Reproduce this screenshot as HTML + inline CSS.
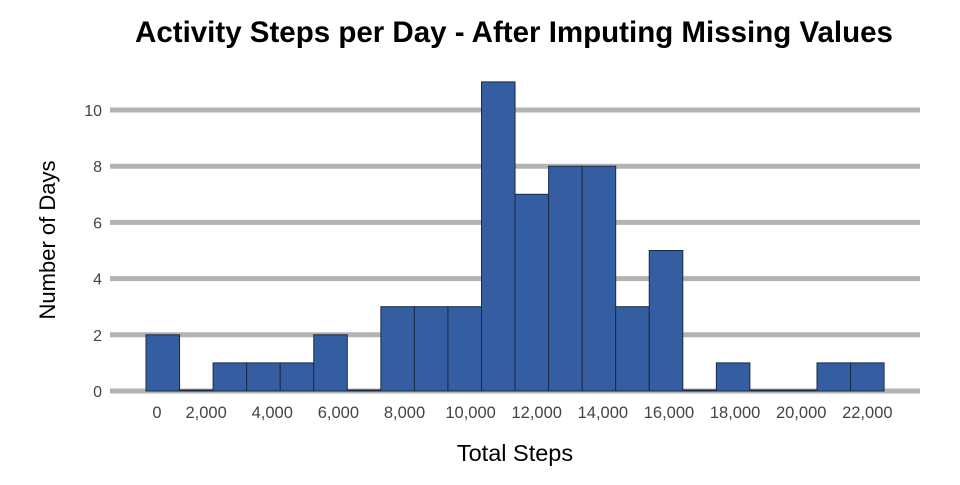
<!DOCTYPE html>
<html><head><meta charset="utf-8"><style>
body{margin:0;background:#fff;font-family:"Liberation Sans",Arial,sans-serif}
</style></head><body>
<svg id="c" width="960" height="480">
<text x="514" y="42" text-anchor="middle" font-size="29.5" font-weight="bold" fill="#000">Activity Steps per Day - After Imputing Missing Values</text>
<text x="515" y="461" text-anchor="middle" font-size="23.5" fill="#000">Total Steps</text>
<text transform="translate(55,240) rotate(-90)" text-anchor="middle" font-size="22" fill="#000">Number of Days</text>
<g id="grid"></g><g id="bars"></g><g id="xt"></g><g id="yt"></g>
</svg>
<script>
const counts=[2,0,1,1,1,2,0,3,3,3,11,7,8,8,3,5,0,1,0,0,1,1];
const yTicks=[0,2,4,6,8,10];
const xTicks=[0,2000,4000,6000,8000,10000,12000,14000,16000,18000,20000,22000];
const ns="http://www.w3.org/2000/svg";
function y(v){return 391-v*28.1;}
function binX(i){return 146+i*33.55;}
function tickX(v){return 140+v*0.03306;}
const grid=document.getElementById('grid'),bars=document.getElementById('bars'),xt=document.getElementById('xt'),yt=document.getElementById('yt');
yTicks.forEach(v=>{
 const l=document.createElementNS(ns,'line');
 l.setAttribute('x1',110);l.setAttribute('x2',920);l.setAttribute('y1',y(v));l.setAttribute('y2',y(v));
 l.setAttribute('stroke','#b3b3b3');l.setAttribute('stroke-width',5);
 
 
 grid.appendChild(l);
 const t=document.createElementNS(ns,'text');
 t.setAttribute('x',102);t.setAttribute('y',y(v)+6);t.setAttribute('text-anchor','end');
 t.setAttribute('font-size',16);t.setAttribute('fill','#444');t.textContent=v;
 
 
 yt.appendChild(t);
});
counts.forEach((c,i)=>{
 const r=document.createElementNS(ns,'rect');
 const h=Math.max(c*28.1,1);
 r.setAttribute('x',binX(i));r.setAttribute('width',33.55);r.setAttribute('y',391-h);r.setAttribute('height',h);
 r.setAttribute('fill','#355ea2');r.setAttribute('stroke','#1a2a44');r.setAttribute('stroke-width',1);
 
 
 bars.appendChild(r);
});
xTicks.forEach((v,i)=>{
 const t=document.createElementNS(ns,'text');
 t.setAttribute('x',i===0?157:tickX(v));t.setAttribute('y',418);t.setAttribute('text-anchor','middle');
 t.setAttribute('font-size',16.5);t.setAttribute('fill','#444');t.textContent=v.toLocaleString('en-US');
 
 
 xt.appendChild(t);
});
</script>
</body></html>
